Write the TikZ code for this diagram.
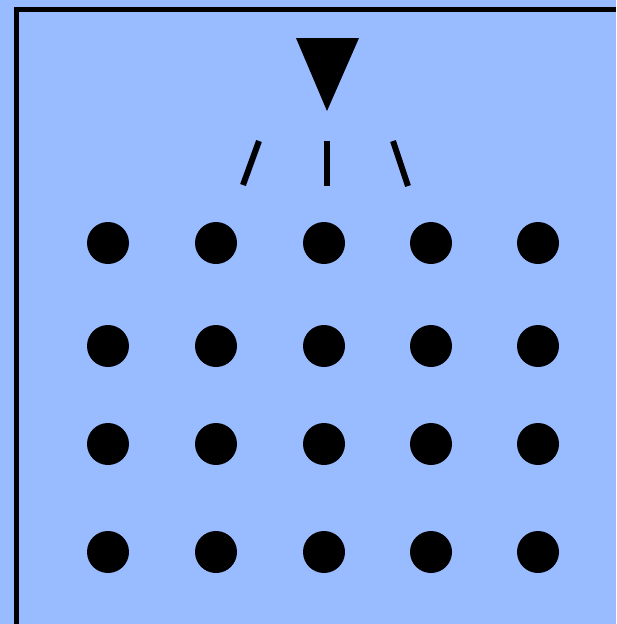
\documentclass[tikz,border=0pt]{standalone}
\definecolor{bg}{RGB}{153,187,255}
\begin{document}
\begin{tikzpicture}[x=1pt,y=-1pt,
  dot/.style={circle,fill=black,inner sep=0pt,minimum size=42pt},
  tick/.style={line width=6pt}]
\fill[bg] (0,0) rectangle (616,624);
\useasboundingbox (0,0) rectangle (616,624);
\draw[line width=5pt] (16.5,624) -- (16.5,9.5) -- (616,9.5);
\fill (296,38) -- (359,38) -- (327,111) -- cycle;
\draw[tick] (259,141) -- (243,185);
\draw[tick] (327,141) -- (327,186);
\draw[tick] (393,141) -- (408,186);
\foreach \x [count=\i] in {108,216,324,431,538}
  \foreach \y [count=\j] in {243,346,444,552}
    \node[dot] (d\i\j) at (\x,\y) {};
\end{tikzpicture}
\end{document}
